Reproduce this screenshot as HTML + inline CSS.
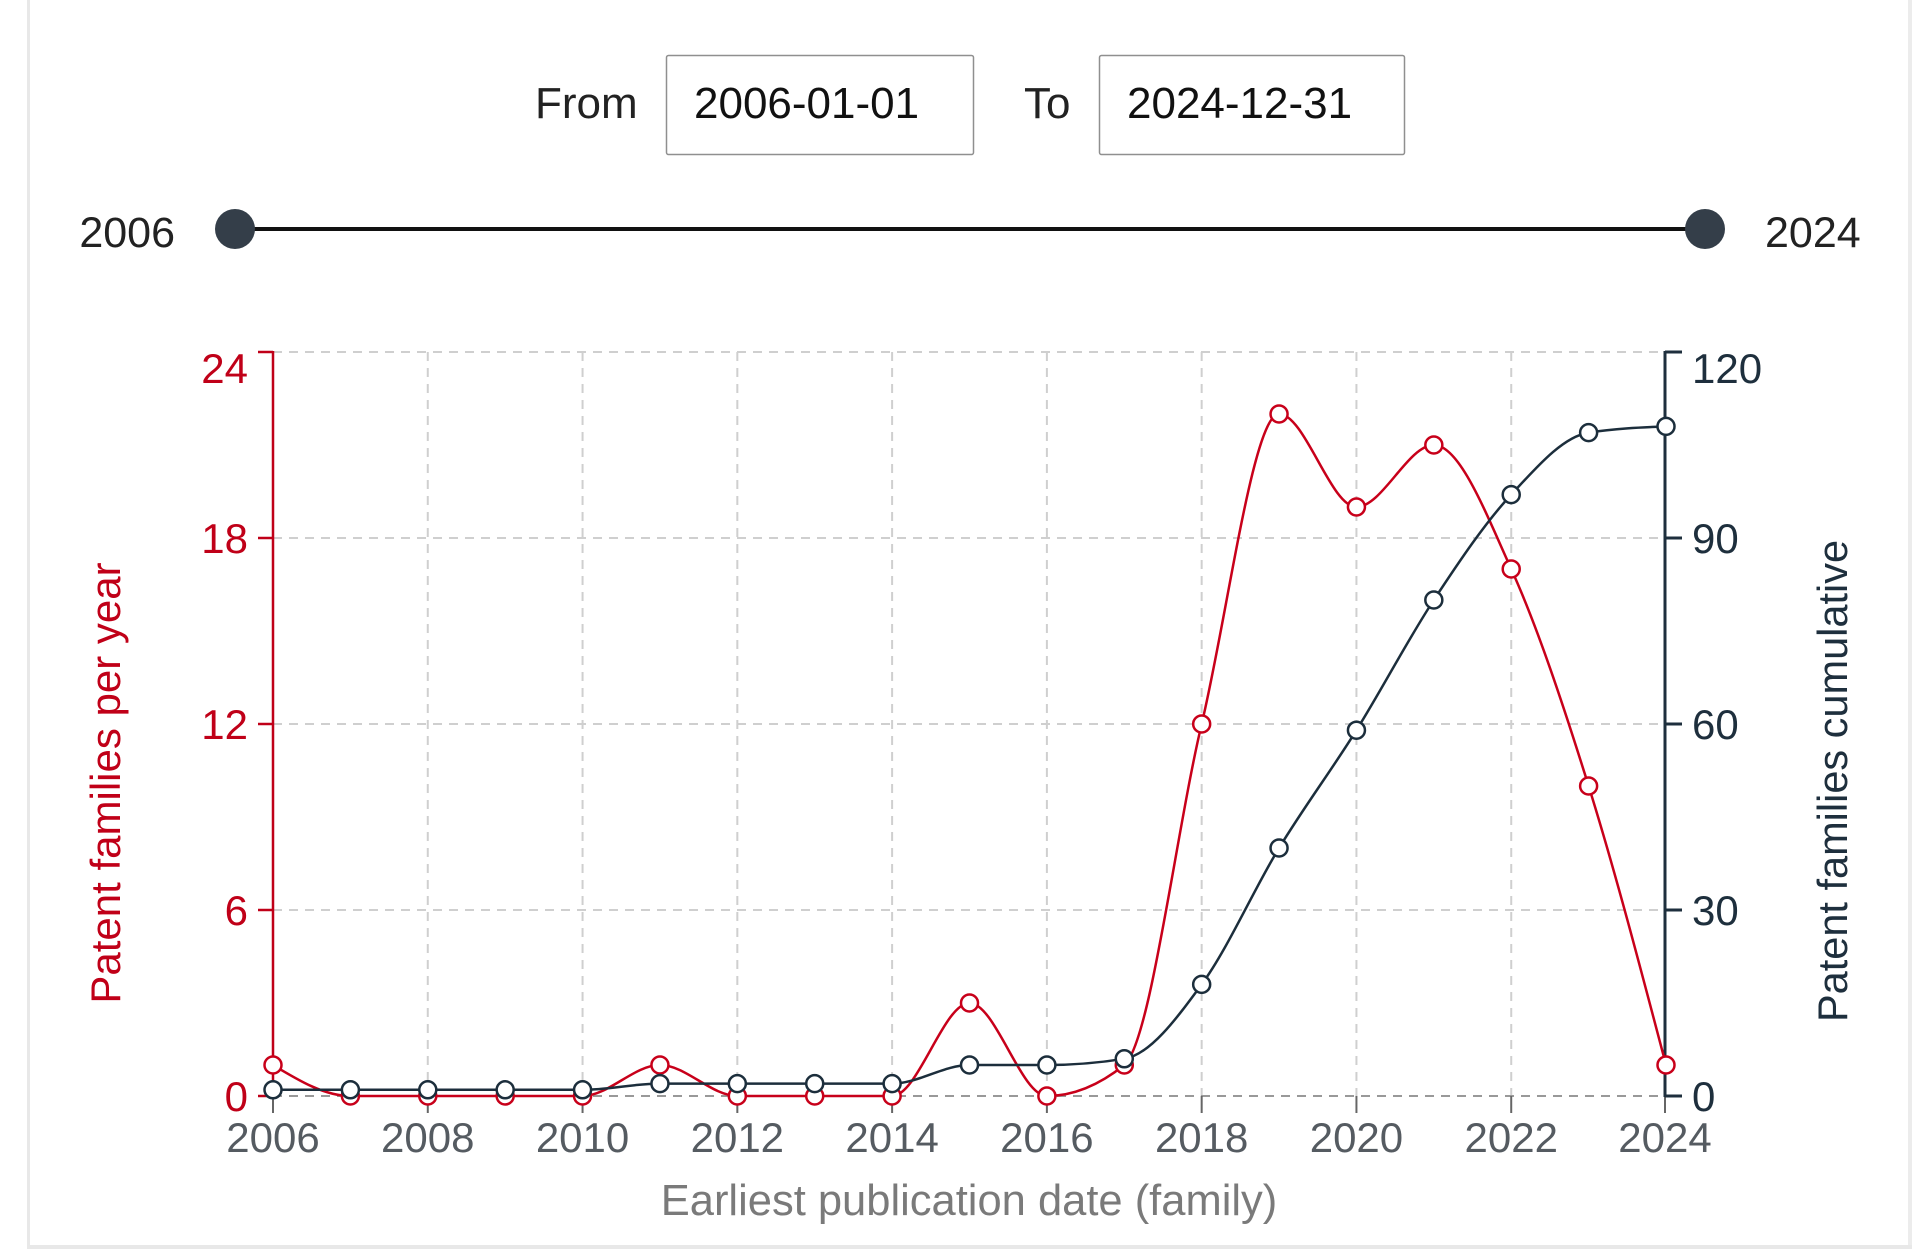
<!DOCTYPE html>
<html>
<head>
<meta charset="utf-8">
<style>
  html, body { margin:0; padding:0; background:#fff; }
  body { width:1920px; height:1249px; overflow:hidden; }
  svg { display:block; }
  text { font-family: "Liberation Sans", Arial, sans-serif; }
</style>
</head>
<body>
<svg width="1920" height="1249" viewBox="0 0 1920 1249" xmlns="http://www.w3.org/2000/svg">
  <!-- card borders -->
  <rect x="0" y="0" width="1920" height="1249" fill="#fff"/>
  <rect x="27" y="0" width="3" height="1249" fill="#e8e8e8"/>
  <rect x="1908" y="0" width="4" height="1249" fill="#ececec"/>
  <rect x="27" y="1245" width="1885" height="4" fill="#e8e8e8"/>

  <!-- date inputs -->
  <text x="535" y="118" font-size="44" fill="#222">From</text>
  <rect x="666.5" y="55.5" width="307" height="99" rx="2" fill="#fff" stroke="#8f8f8f" stroke-width="1.5"/>
  <text x="694" y="118" font-size="44" fill="#111">2006-01-01</text>
  <text x="1024" y="118" font-size="44" fill="#222">To</text>
  <rect x="1099.5" y="55.5" width="305" height="99" rx="2" fill="#fff" stroke="#8f8f8f" stroke-width="1.5"/>
  <text x="1127" y="118" font-size="44" fill="#111">2024-12-31</text>

  <!-- slider -->
  <text x="175" y="247" font-size="43" fill="#222" text-anchor="end">2006</text>
  <line x1="235" y1="229" x2="1705" y2="229" stroke="#111" stroke-width="4"/>
  <circle cx="235" cy="229" r="20" fill="#343e49"/>
  <circle cx="1705" cy="229" r="20" fill="#343e49"/>
  <text x="1765" y="247" font-size="43" fill="#222">2024</text>

  <!-- grid -->
  <g stroke="#cfcfcf" stroke-width="2" stroke-dasharray="9,7" fill="none">
    <line x1="273" y1="352" x2="1664" y2="352"/>
    <line x1="273" y1="538" x2="1664" y2="538"/>
    <line x1="273" y1="724" x2="1664" y2="724"/>
    <line x1="273" y1="910" x2="1664" y2="910"/>
    <line x1="427.78" y1="352" x2="427.78" y2="1096"/>
    <line x1="582.56" y1="352" x2="582.56" y2="1096"/>
    <line x1="737.33" y1="352" x2="737.33" y2="1096"/>
    <line x1="892.11" y1="352" x2="892.11" y2="1096"/>
    <line x1="1046.89" y1="352" x2="1046.89" y2="1096"/>
    <line x1="1201.67" y1="352" x2="1201.67" y2="1096"/>
    <line x1="1356.44" y1="352" x2="1356.44" y2="1096"/>
    <line x1="1511.22" y1="352" x2="1511.22" y2="1096"/>
  </g>
  <line x1="273" y1="1096" x2="1664" y2="1096" stroke="#999" stroke-width="2" stroke-dasharray="9,7"/>

  <!-- x ticks -->
  <g stroke="#666" stroke-width="2">
    <line x1="273" y1="1096" x2="273" y2="1113"/>
    <line x1="427.78" y1="1096" x2="427.78" y2="1113"/>
    <line x1="582.56" y1="1096" x2="582.56" y2="1113"/>
    <line x1="737.33" y1="1096" x2="737.33" y2="1113"/>
    <line x1="892.11" y1="1096" x2="892.11" y2="1113"/>
    <line x1="1046.89" y1="1096" x2="1046.89" y2="1113"/>
    <line x1="1201.67" y1="1096" x2="1201.67" y2="1113"/>
    <line x1="1356.44" y1="1096" x2="1356.44" y2="1113"/>
    <line x1="1511.22" y1="1096" x2="1511.22" y2="1113"/>
    <line x1="1665" y1="1096" x2="1665" y2="1113"/>
  </g>
  <g font-size="42" fill="#555b61" text-anchor="middle">
    <text x="273" y="1152">2006</text>
    <text x="427.78" y="1152">2008</text>
    <text x="582.56" y="1152">2010</text>
    <text x="737.33" y="1152">2012</text>
    <text x="892.11" y="1152">2014</text>
    <text x="1046.89" y="1152">2016</text>
    <text x="1201.67" y="1152">2018</text>
    <text x="1356.44" y="1152">2020</text>
    <text x="1511.22" y="1152">2022</text>
    <text x="1665" y="1152">2024</text>
  </g>
  <text x="969" y="1215" font-size="43.5" fill="#7a7a7a" text-anchor="middle">Earliest publication date (family)</text>

  <!-- left axis -->
  <g stroke="#c00018" stroke-width="2.5">
    <line x1="273" y1="351" x2="273" y2="1097"/>
    <line x1="258" y1="352" x2="273" y2="352"/>
    <line x1="258" y1="538" x2="273" y2="538"/>
    <line x1="258" y1="724" x2="273" y2="724"/>
    <line x1="258" y1="910" x2="273" y2="910"/>
    <line x1="258" y1="1096" x2="273" y2="1096"/>
  </g>
  <g font-size="42" fill="#c00018" text-anchor="end">
    <text x="248" y="383">24</text>
    <text x="248" y="553">18</text>
    <text x="248" y="739">12</text>
    <text x="248" y="925">6</text>
    <text x="248" y="1111">0</text>
  </g>
  <text transform="translate(120,783) rotate(-90)" font-size="42" fill="#c00018" text-anchor="middle">Patent families per year</text>

  <!-- right axis -->
  <g stroke="#1e2f3d" stroke-width="3">
    <line x1="1665" y1="351" x2="1665" y2="1097"/>
    <line x1="1665" y1="352" x2="1682" y2="352"/>
    <line x1="1665" y1="538" x2="1682" y2="538"/>
    <line x1="1665" y1="724" x2="1682" y2="724"/>
    <line x1="1665" y1="910" x2="1682" y2="910"/>
    <line x1="1665" y1="1096" x2="1682" y2="1096"/>
  </g>
  <g font-size="42" fill="#1e2f3d">
    <text x="1692" y="383">120</text>
    <text x="1692" y="553">90</text>
    <text x="1692" y="739">60</text>
    <text x="1692" y="925">30</text>
    <text x="1692" y="1111">0</text>
  </g>
  <text transform="translate(1847,781) rotate(-90)" font-size="41.5" fill="#1e2f3d" text-anchor="middle">Patent families cumulative</text>

  <!-- red series -->
  <path fill="none" stroke="#c8001a" stroke-width="2.5" d="M273,1065
    C298.8,1080.5 324.59,1096 350.39,1096
    L582.56,1096
    C608.36,1096 634.14,1065 659.94,1065
    C685.74,1065 711.53,1096 737.33,1096
    L892.11,1096
    C917.91,1096 943.7,1003 969.5,1003
    C995.3,1003 1021.09,1096 1046.89,1096
    C1072.69,1096 1098.48,1085.67 1124.28,1065
    C1150.08,1044.33 1175.87,832.5 1201.67,724
    C1227.47,615.5 1253.26,414 1279.06,414
    C1304.86,414 1330.64,507 1356.44,507
    C1382.24,507 1408.03,445 1433.83,445
    C1459.63,445 1485.42,512.17 1511.22,569
    C1537.02,625.83 1562.81,703.33 1588.61,786
    C1614.41,868.67 1640.2,966.83 1666,1065"/>
  <g fill="#fff" stroke="#c8001a" stroke-width="2.5">
    <circle cx="273" cy="1065" r="8.5"/>
    <circle cx="350.39" cy="1096" r="8.5"/>
    <circle cx="427.78" cy="1096" r="8.5"/>
    <circle cx="505.17" cy="1096" r="8.5"/>
    <circle cx="582.56" cy="1096" r="8.5"/>
    <circle cx="659.94" cy="1065" r="8.5"/>
    <circle cx="737.33" cy="1096" r="8.5"/>
    <circle cx="814.72" cy="1096" r="8.5"/>
    <circle cx="892.11" cy="1096" r="8.5"/>
    <circle cx="969.5" cy="1003" r="8.5"/>
    <circle cx="1046.89" cy="1096" r="8.5"/>
    <circle cx="1124.28" cy="1065" r="8.5"/>
    <circle cx="1201.67" cy="724" r="8.5"/>
    <circle cx="1279.06" cy="414" r="8.5"/>
    <circle cx="1356.44" cy="507" r="8.5"/>
    <circle cx="1433.83" cy="445" r="8.5"/>
    <circle cx="1511.22" cy="569" r="8.5"/>
    <circle cx="1588.61" cy="786" r="8.5"/>
    <circle cx="1666" cy="1065" r="8.5"/>
  </g>

  <!-- cumulative series -->
  <path fill="none" stroke="#1c2e3c" stroke-width="2.5" d="M273,1089.8
    L582.56,1089.8
    C608.36,1089.8 634.14,1083.6 659.94,1083.6
    L892.11,1083.6
    C917.91,1083.6 943.7,1065 969.5,1065
    L1046.89,1065
    C1072.69,1065 1098.48,1062.93 1124.28,1058.8
    C1150.08,1054.67 1175.87,1019.53 1201.67,984.4
    C1227.47,949.27 1253.26,890.37 1279.06,848
    C1304.86,805.63 1330.64,771.53 1356.44,730.2
    C1382.24,688.87 1408.03,639.27 1433.83,600
    C1459.63,560.73 1485.42,522.5 1511.22,494.6
    C1537.02,466.7 1562.81,436.73 1588.61,432.6
    C1614.41,428.47 1640.2,427.43 1666,426.4"/>
  <g fill="#fff" stroke="#1c2e3c" stroke-width="2.5">
    <circle cx="273" cy="1089.8" r="8.5"/>
    <circle cx="350.39" cy="1089.8" r="8.5"/>
    <circle cx="427.78" cy="1089.8" r="8.5"/>
    <circle cx="505.17" cy="1089.8" r="8.5"/>
    <circle cx="582.56" cy="1089.8" r="8.5"/>
    <circle cx="659.94" cy="1083.6" r="8.5"/>
    <circle cx="737.33" cy="1083.6" r="8.5"/>
    <circle cx="814.72" cy="1083.6" r="8.5"/>
    <circle cx="892.11" cy="1083.6" r="8.5"/>
    <circle cx="969.5" cy="1065" r="8.5"/>
    <circle cx="1046.89" cy="1065" r="8.5"/>
    <circle cx="1124.28" cy="1058.8" r="8.5"/>
    <circle cx="1201.67" cy="984.4" r="8.5"/>
    <circle cx="1279.06" cy="848" r="8.5"/>
    <circle cx="1356.44" cy="730.2" r="8.5"/>
    <circle cx="1433.83" cy="600" r="8.5"/>
    <circle cx="1511.22" cy="494.6" r="8.5"/>
    <circle cx="1588.61" cy="432.6" r="8.5"/>
    <circle cx="1666" cy="426.4" r="8.5"/>
  </g>
</svg>
</body>
</html>
